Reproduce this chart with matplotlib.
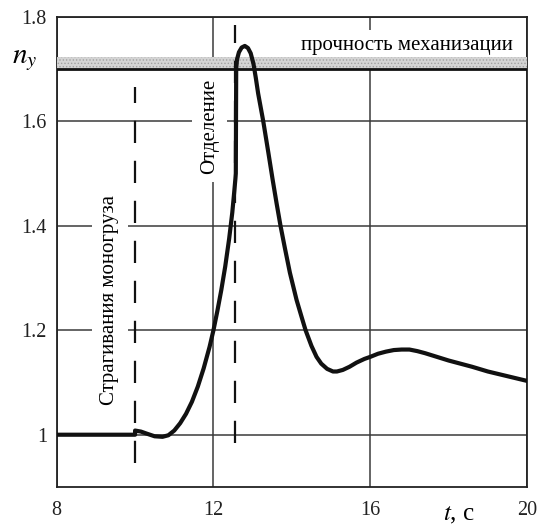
import numpy as np
import matplotlib
matplotlib.use('Agg')
import matplotlib.pyplot as plt

plt.rcParams['font.family'] = ['Liberation Serif', 'DejaVu Serif']
plt.rcParams['mathtext.fontset'] = 'stix'
plt.rcParams['hatch.color'] = '#9a9a9a'
plt.rcParams['hatch.linewidth'] = 0.6

# curve n_y(t)
t = [8.0, 10.0, 10.0, 10.15, 10.3, 10.5, 10.7, 10.85, 11.0, 11.15, 11.3, 11.45,
     11.6, 11.75, 11.9, 12.0, 12.1, 12.2, 12.3, 12.4, 12.48, 12.53, 12.56,
     12.57, 12.58, 12.6, 12.65, 12.72, 12.8, 12.88, 12.95, 13.02, 13.08, 13.14,
     13.27, 13.4, 13.51, 13.61, 13.71, 13.82, 13.95, 14.12, 14.25, 14.35, 14.5,
     14.63, 14.75, 14.9, 15.05, 15.15, 15.3, 15.47, 15.65, 15.85, 16.0, 16.2,
     16.4, 16.6, 16.8, 17.0, 17.2, 17.4, 17.7, 18.0, 18.3, 18.6, 19.0, 19.5, 20.0]
ny = [1.0, 1.0, 1.008, 1.006, 1.002, 0.997, 0.996, 0.999, 1.008, 1.022, 1.04, 1.063,
      1.092, 1.127, 1.168, 1.2, 1.237, 1.277, 1.322, 1.375, 1.425, 1.465, 1.49,
      1.50, 1.70, 1.718, 1.732, 1.741, 1.744, 1.740, 1.73, 1.71, 1.683, 1.653,
      1.6, 1.54, 1.488, 1.443, 1.4, 1.358, 1.31, 1.258, 1.225, 1.2, 1.17,
      1.149, 1.136, 1.126, 1.121, 1.121, 1.124, 1.13, 1.138, 1.145, 1.149, 1.155,
      1.159, 1.162, 1.163, 1.163, 1.16, 1.156, 1.149, 1.142, 1.136, 1.13, 1.121, 1.112, 1.103]

# event markers (dashed verticals)
event_t = [10.0, 12.56]
event_lo = [0.945, 0.985]
event_hi = [1.666, 1.785]
event_txt = ['Страгивания моногруза', 'Отделение']
event_txt_pos = [(9.36, 1.258), (11.9, 1.591)]

limit_lo = 1.70
limit_hi = 1.722
limit_txt = 'прочность механизации'

xticks = [8, 12, 16, 20]
xlabels = ['8', '12', '16', '20']
yticks = [1.0, 1.2, 1.4, 1.6, 1.8]
ylabels = ['1', '1.2', '1.4', '1.6', '1.8']

fig = plt.figure(figsize=(5.44, 5.31), dpi=100)
ax = fig.add_axes([0.1042, 0.0829, 0.8646, 0.8857])
ax.set_xlim(8, 20)
ax.set_ylim(0.9, 1.8)
ax.set_xticks(xticks)
ax.set_xticklabels(xlabels)
ax.set_yticks(yticks)
ax.set_yticklabels(ylabels)
ax.tick_params(length=0, labelsize=14.5, colors='#222222')
ax.tick_params(axis='x', pad=10)
ax.tick_params(axis='y', pad=7)
ax.grid(True, color='#3a3a3a', lw=1.1, zorder=1)
ax.set_axisbelow(True)
for s in ax.spines.values():
	s.set_linewidth(1.3)
	s.set_color('#222222')

# strength limit band, drawn over the text box
ax.axhspan(limit_lo, limit_hi, facecolor='#d4d4d4', hatch='.....', edgecolor='#a0a0a0', lw=0, zorder=4.5)
ax.axhline(limit_lo, color='#111111', lw=2.0, zorder=4.6)
ax.text(19.64, 1.744, limit_txt, fontsize=15, ha='right', va='center', zorder=4,
	bbox=dict(facecolor='white', edgecolor='none', pad=5))

# event texts with white boxes over the grid
for (x, y), s in zip(event_txt_pos, event_txt):
	ax.text(x, y, s, rotation=90, fontsize=15, ha='center', va='center', zorder=4,
		bbox=dict(facecolor='white', edgecolor='none', pad=6))

for i in range(len(event_t)):
	ax.plot([event_t[i], event_t[i]], [event_lo[i], event_hi[i]], color='#111111',
		lw=1.6, dashes=(10, 8), zorder=5)

ax.plot(t, ny, color='#111111', lw=3.0, zorder=6, solid_joinstyle='round')

fig.text(25/544, 1-60/531, '$n_y$', fontsize=21, ha='center', va='center')
fig.text(459/544, 1-515/531, '$t$, с', fontsize=18, ha='center', va='center')

fig.savefig('out.png', dpi=100)
